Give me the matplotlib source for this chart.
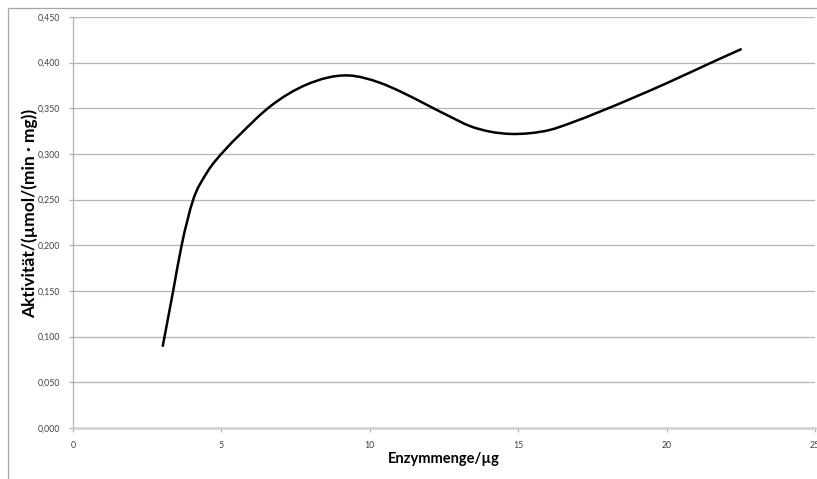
import matplotlib
matplotlib.use("Agg")
import matplotlib.pyplot as plt
from matplotlib.path import Path
from matplotlib.patches import PathPatch, Rectangle
import numpy as np

# Values (Excel smoothed line)
enzyme_ug = [3.02, 3.38, 3.66, 4.05, 4.5, 5.12, 5.63, 6.64, 7.87, 9.28,
             10.34, 11.02, 12.03, 12.70, 13.38, 14.05, 14.72, 15.40, 16.07,
             16.75, 17.76, 20.0, 21.57, 22.53]
activity = [0.089, 0.151, 0.200, 0.250, 0.279, 0.3045, 0.3215, 0.352, 0.376, 0.386,
            0.378, 0.3686, 0.352, 0.341, 0.3305, 0.3245, 0.322, 0.3228, 0.3264,
            0.3337, 0.3465, 0.3775, 0.401, 0.415]
x_ticks = [0, 5, 10, 15, 20, 25]
y_ticks = [0.0, 0.05, 0.1, 0.15, 0.2, 0.25, 0.3, 0.35, 0.4, 0.45]

plt.rcParams['font.family'] = ['Lato', 'DejaVu Sans']

fig = plt.figure(figsize=(8.17, 4.79), dpi=100)
# chart-area border
fig.patches.append(Rectangle((8/817, -0.01), 1.0, (479-8)/479 + 0.01, transform=fig.transFigure,
                             fill=False, edgecolor='#a6a6a6', linewidth=0.9, figure=fig))
ax = fig.add_axes([73/817, (479-428)/479, (815-73)/817, (428-17)/479])
ax.set_xlim(0, 25)
ax.set_ylim(0, 0.45)

# Smooth curve through the points: cubic Hermite (as Bezier) with
# three-point tangents, drawn as a path in data coordinates
x = np.asarray(enzyme_ug, float)
y = np.asarray(activity, float)
h = np.diff(x)
d = np.diff(y) / h
m = np.empty_like(x)
m[0] = d[0]
m[-1] = d[-1]
m[1:-1] = (h[:-1] * d[1:] + h[1:] * d[:-1]) / (h[:-1] + h[1:])
verts = [(x[0], y[0])]
codes = [Path.MOVETO]
for i in range(len(x) - 1):
    verts += [(x[i] + h[i] / 3, y[i] + m[i] * h[i] / 3),
              (x[i + 1] - h[i] / 3, y[i + 1] - m[i + 1] * h[i] / 3),
              (x[i + 1], y[i + 1])]
    codes += [Path.CURVE4] * 3
patch = PathPatch(Path(verts, codes), facecolor='none', edgecolor='black',
                  linewidth=1.8, transform=ax.transData, zorder=3,
                  capstyle='butt', joinstyle='round')
ax.add_patch(patch)

ax.set_xticks(x_ticks)
ax.set_yticks(y_ticks)
ax.set_xticklabels([str(v) for v in x_ticks])
ax.set_yticklabels([f"{v:.3f}".replace('.', ',') for v in y_ticks])
ax.yaxis.grid(True, color='#b3b3b3', linewidth=0.9)
ax.set_axisbelow(True)
for s in ['top', 'right']:
    ax.spines[s].set_visible(False)
ax.spines['bottom'].set_color('#d0d0d0')
ax.spines['bottom'].set_linewidth(1.8)
ax.spines['left'].set_color('#b3b3b3')
ax.spines['left'].set_linewidth(0.9)
ax.tick_params(axis='both', labelsize=6.3, colors='#b3b3b3', labelcolor='#404040',
               length=3, width=0.9)
ax.tick_params(axis='x', pad=6)
ax.tick_params(axis='y', pad=6)

ax.set_xlabel('Enzymmenge/µg', fontsize=10.5, fontweight='bold', color='black', labelpad=2)
ax.set_ylabel('Aktivität/(µmol/(min · mg))', fontsize=12.5, fontweight='bold', color='black')
ax.yaxis.set_label_coords(-0.047, 0.523)

fig.savefig('out.png', dpi=100)
